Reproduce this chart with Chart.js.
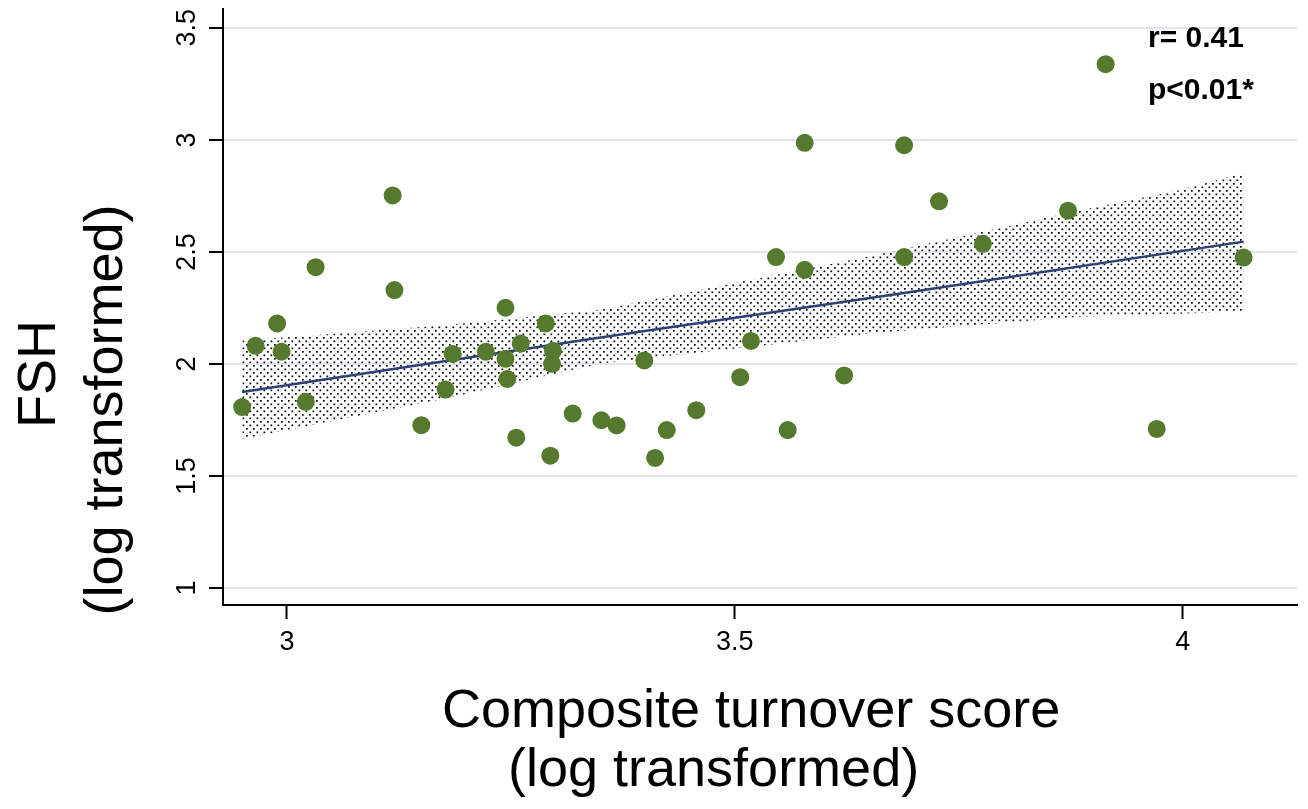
<!DOCTYPE html>
<html>
<head>
<meta charset="utf-8">
<title>FSH vs composite turnover score</title>
<script src="https://cdn.jsdelivr.net/npm/chart.js"></script>
<style>
  html, body { margin: 0; padding: 0; background: #fff; }
  #wrap { width: 1308px; height: 809px; }
</style>
</head>
<body>
<div id="wrap"><canvas id="fshChart"></canvas></div>
<script>
// scatter: composite turnover score (x) vs FSH (y), both log transformed
const turnoverX = [2.950, 2.965, 2.989, 2.994, 3.021, 3.032, 3.118, 3.120, 3.150, 3.177,
                   3.185, 3.222, 3.244, 3.244, 3.246, 3.256, 3.261, 3.289, 3.294, 3.297,
                   3.296, 3.319, 3.351, 3.368, 3.399, 3.411, 3.424, 3.457, 3.506, 3.518,
                   3.546, 3.559, 3.578, 3.578, 3.622, 3.689, 3.689, 3.728, 3.777, 3.872,
                   3.914, 3.971, 4.068];
const fshY = [1.808, 2.081, 2.181, 2.055, 1.831, 2.432, 2.752, 2.330, 1.727, 1.886,
              2.045, 2.055, 2.251, 2.023, 1.933, 1.671, 2.091, 2.181, 1.591, 2.059,
              2.001, 1.779, 1.749, 1.726, 2.016, 1.581, 1.705, 1.794, 1.941, 2.103,
              2.477, 1.705, 2.987, 2.420, 1.949, 2.976, 2.477, 2.726, 2.536, 2.684,
              3.338, 1.710, 2.475];

// fitted line and its confidence band
const fitX = [2.950, 3.350, 3.689, 4.068];
const fitY = [1.875, 2.118, 2.317, 2.546];
const ciX = [2.950, 3.182, 3.350, 3.662, 3.885, 3.997, 4.068];
const ciUpper = [2.104, 2.175, 2.242, 2.490, 2.685, 2.776, 2.852];
const ciLower = [1.665, 1.851, 2.002, 2.140, 2.211, 2.224, 2.237];

const xTicks = [3, 3.5, 4];
const xTickLabels = ['3', '3.5', '4'];
const yTicks = [1, 1.5, 2, 2.5, 3, 3.5];
const yTickLabels = ['1', '1.5', '2', '2.5', '3', '3.5'];

const xTitle = ['Composite turnover score', '(log transformed)'];
const yTitle = ['FSH', '(log transformed)'];
const statText = ['r= 0.41', 'p<0.01*'];

const FONT = '"Liberation Sans", Arial, Helvetica, sans-serif';
const GREEN = '#557a2e';
const NAVY = '#2b4272';

function zip(xs, ys) {
    return xs.map((x, i) => ({ x: x, y: ys[i] }));
}

// stipple fill like the Stata CI area
function dotPattern() {
    const c = document.createElement('canvas');
    c.width = 7;
    c.height = 7;
    const g = c.getContext('2d');
    g.fillStyle = '#000';
    g.fillRect(1, 1, 1.7, 1.7);
    g.fillRect(4.5, 4.5, 1.7, 1.7);
    return g.createPattern(c, 'repeat');
}

function vText(ctx, text, x, y) {
    ctx.save();
    ctx.translate(x, y);
    ctx.rotate(-Math.PI / 2);
    ctx.fillText(text, 0, 0);
    ctx.restore();
}

// axis titles and the r / p note
const textPlugin = {
    id: 'textPlugin',
    afterDraw(chart) {
        const ctx = chart.ctx;
        ctx.save();
        ctx.fillStyle = '#000';
        ctx.textBaseline = 'alphabetic';

        ctx.font = '54px ' + FONT;
        ctx.textAlign = 'left';
        ctx.fillText(xTitle[0], 442, 727);
        ctx.fillText(xTitle[1], 508, 786);

        ctx.textAlign = 'center';
        vText(ctx, yTitle[0], 55, 374);
        vText(ctx, yTitle[1], 122, 410);

        ctx.font = 'bold 30px ' + FONT;
        ctx.textAlign = 'left';
        ctx.fillText(statText[0], 1148, 47);
        ctx.fillText(statText[1], 1148, 99);
        ctx.restore();
    }
};

const ctx = document.getElementById('fshChart').getContext('2d');

new Chart(ctx, {
    type: 'scatter',
    data: {
        datasets: [
            {
                label: 'FSH',
                data: zip(turnoverX, fshY),
                pointRadius: 9,
                pointBackgroundColor: GREEN,
                pointBorderWidth: 0,
                order: 0
            },
            {
                type: 'line',
                label: 'Fitted values',
                data: zip(fitX, fitY),
                borderColor: NAVY,
                borderWidth: 2.5,
                pointRadius: 0,
                fill: false,
                order: 1
            },
            {
                type: 'line',
                label: '95% CI upper',
                data: zip(ciX, ciUpper),
                borderColor: 'rgba(0,0,0,0)',
                borderWidth: 0,
                pointRadius: 0,
                backgroundColor: dotPattern(),
                fill: '+1',
                order: 2
            },
            {
                type: 'line',
                label: '95% CI lower',
                data: zip(ciX, ciLower),
                borderColor: 'rgba(0,0,0,0)',
                borderWidth: 0,
                pointRadius: 0,
                fill: false,
                order: 3
            }
        ]
    },
    options: {
        responsive: true,
        maintainAspectRatio: false,
        animation: false,
        layout: { padding: { top: 5, right: 11, left: 0, bottom: 0 } },
        plugins: {
            legend: { display: false },
            tooltip: { enabled: false }
        },
        scales: {
            x: {
                type: 'linear',
                min: 2.9286,
                max: 4.1276,
                afterBuildTicks: s => { s.ticks = xTicks.map(v => ({ value: v })); },
                afterFit: s => { s.height = 204; s.paddingLeft = 0; s.paddingRight = 0; },
                border: { color: '#000', width: 2 },
                grid: { drawOnChartArea: false, tickLength: 14, tickColor: '#000', tickWidth: 2 },
                ticks: {
                    color: '#000',
                    font: { family: FONT, size: 27 },
                    padding: 7,
                    maxRotation: 0,
                    callback: v => xTickLabels[xTicks.indexOf(v)] ?? ''
                }
            },
            y: {
                type: 'linear',
                min: 0.9246,
                max: 3.584,
                afterBuildTicks: s => { s.ticks = yTicks.map(v => ({ value: v })); },
                afterFit: s => { s.width = 223; s.paddingTop = 0; s.paddingBottom = 0; },
                border: { color: '#000', width: 2 },
                grid: { color: '#e3e5f1', lineWidth: 2, tickLength: 14, tickColor: '#000', tickWidth: 2 },
                ticks: {
                    color: '#000',
                    font: { family: FONT, size: 27 },
                    padding: 3,
                    minRotation: 90,
                    maxRotation: 90,
                    crossAlign: 'center',
                    callback: v => yTickLabels[yTicks.indexOf(v)] ?? ''
                }
            }
        }
    },
    plugins: [textPlugin]
});
</script>
</body>
</html>
